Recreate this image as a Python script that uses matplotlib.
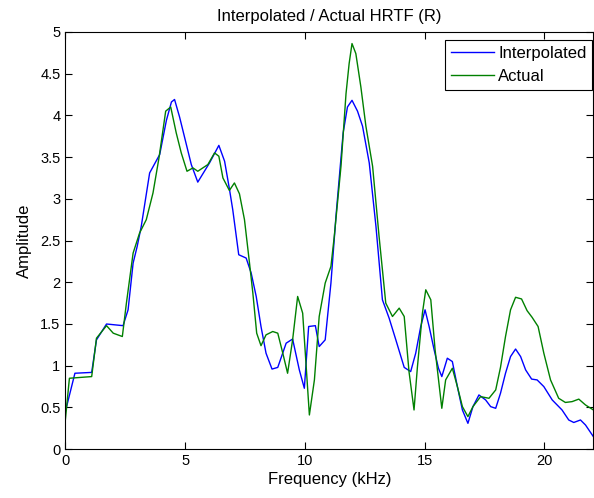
import numpy as np
import matplotlib
matplotlib.use("Agg")
import matplotlib.pyplot as plt

plt.rcParams['font.family'] = ['Liberation Sans', 'DejaVu Sans']

# frequency (kHz) / amplitude
f_interp = [0.0, 0.4, 1.1, 1.3, 1.72, 2.41, 2.62, 2.83, 3.0, 3.17, 3.52, 3.94, 4.22, 4.43, 4.56,
            4.77, 5.26, 5.53, 6.02, 6.41, 6.65, 6.85, 6.99, 7.24, 7.55, 7.76, 7.97, 8.17, 8.38,
            8.63, 8.87, 9.22, 9.49, 9.77, 9.98, 10.16, 10.44, 10.6, 10.85, 11.09, 11.3, 11.6,
            11.78, 11.97, 12.2, 12.41, 12.69, 12.97, 13.24, 13.52, 13.8, 14.15, 14.42, 14.63,
            14.84, 15.02, 15.19, 15.4, 15.58, 15.72, 15.95, 16.16, 16.37, 16.58, 16.81, 17.02,
            17.27, 17.55, 17.76, 17.97, 18.17, 18.38, 18.59, 18.8, 19.01, 19.22, 19.47, 19.7,
            19.98, 20.33, 20.74, 21.02, 21.23, 21.51, 21.72, 22.05]
a_interp = [0.45, 0.91, 0.92, 1.31, 1.5, 1.48, 1.67, 2.23, 2.43, 2.67, 3.31, 3.53, 3.94, 4.16, 4.19,
            3.98, 3.41, 3.2, 3.43, 3.64, 3.45, 3.12, 2.87, 2.33, 2.29, 2.11, 1.83, 1.47, 1.15,
            0.96, 0.98, 1.27, 1.32, 0.95, 0.73, 1.47, 1.48, 1.23, 1.31, 1.99, 2.79, 3.79,
            4.1, 4.18, 4.05, 3.87, 3.43, 2.67, 1.79, 1.57, 1.31, 0.98, 0.93, 1.15,
            1.47, 1.67, 1.47, 1.19, 0.97, 0.87, 1.09, 1.05, 0.75, 0.47, 0.31, 0.51,
            0.65, 0.59, 0.51, 0.49, 0.67, 0.91, 1.11, 1.2, 1.11, 0.95, 0.84, 0.83,
            0.75, 0.59, 0.47, 0.35, 0.32, 0.35, 0.29, 0.15]

f_actual = [0.0, 0.17, 1.1, 1.3, 1.72, 2.0, 2.38, 2.55, 2.83, 3.1, 3.38, 3.66, 3.91, 4.19, 4.4,
            4.63, 4.84, 5.08, 5.33, 5.53, 5.95, 6.23, 6.41, 6.58, 6.85, 7.06, 7.27, 7.48, 7.69,
            7.83, 7.99, 8.17, 8.38, 8.66, 8.87, 9.08, 9.28, 9.49, 9.7, 9.91, 10.02, 10.19,
            10.4, 10.6, 10.85, 11.09, 11.23, 11.51, 11.72, 11.85, 11.97, 12.13, 12.34, 12.55,
            12.83, 13.1, 13.38, 13.66, 13.94, 14.15, 14.35, 14.56, 14.7, 14.91, 15.05, 15.26,
            15.44, 15.72, 15.88, 16.16, 16.37, 16.58, 16.81, 17.02, 17.34, 17.69, 17.97, 18.17,
            18.38, 18.59, 18.8, 19.05, 19.28, 19.49, 19.74, 19.98, 20.26, 20.6, 20.88, 21.16,
            21.44, 21.72, 22.05]
a_actual = [0.35, 0.85, 0.87, 1.33, 1.48, 1.39, 1.35, 1.75, 2.35, 2.59, 2.75, 3.07, 3.49, 4.05, 4.1,
            3.79, 3.55, 3.33, 3.37, 3.33, 3.41, 3.55, 3.51, 3.25, 3.1, 3.19, 3.06, 2.75, 2.23,
            1.87, 1.39, 1.24, 1.37, 1.41, 1.39, 1.15, 0.91, 1.31, 1.83, 1.63, 1.15, 0.41,
            0.83, 1.59, 1.99, 2.19, 2.55, 3.39, 4.26, 4.62, 4.86, 4.74, 4.34, 3.87,
            3.39, 2.55, 1.75, 1.59, 1.69, 1.59, 0.93, 0.47, 0.98, 1.63, 1.91, 1.79,
            1.19, 0.49, 0.83, 0.97, 0.75, 0.51, 0.39, 0.51, 0.63, 0.61, 0.71, 0.98,
            1.35, 1.67, 1.82, 1.8, 1.66, 1.58, 1.47, 1.15, 0.83, 0.61, 0.56, 0.57,
            0.6, 0.53, 0.47]

xticks = [0, 5, 10, 15, 20]
yticks = [0, 0.5, 1, 1.5, 2, 2.5, 3, 3.5, 4, 4.5, 5]
ytick_labels = ['0', '0.5', '1', '1.5', '2', '2.5', '3', '3.5', '4', '4.5', '5']

fig = plt.figure(figsize=(5.94, 4.98), dpi=100)
ax = fig.add_axes([0.110, 0.098, 0.889, 0.838])

ax.plot(f_interp, a_interp, color='#0000ff', lw=1.0, label='Interpolated')
ax.plot(f_actual, a_actual, color='#008000', lw=1.0, label='Actual')

ax.set_xlim(0, 22.05)
ax.set_ylim(0, 5)
ax.set_xticks(xticks)
ax.set_xticklabels([str(t) for t in xticks])
ax.set_yticks(yticks)
ax.set_yticklabels(ytick_labels)
ax.tick_params(direction='in', top=True, right=True, labelsize=10.5, length=5, width=0.8)
for s in ax.spines.values():
    s.set_linewidth(0.8)

ax.set_xlabel('Frequency (kHz)', fontsize=12, labelpad=3)
ax.set_ylabel('Amplitude', fontsize=12, labelpad=6)
ax.set_title('Interpolated / Actual HRTF (R)', fontsize=12, pad=8)

leg = ax.legend(loc='upper right', bbox_to_anchor=(0.998, 0.981), borderaxespad=0,
                fontsize=12, fancybox=False, framealpha=1, edgecolor='black',
                handlelength=2.6, handletextpad=0.25, borderpad=0.35, labelspacing=0.5)
leg.get_frame().set_linewidth(0.8)

fig.savefig('out.png', dpi=100)
